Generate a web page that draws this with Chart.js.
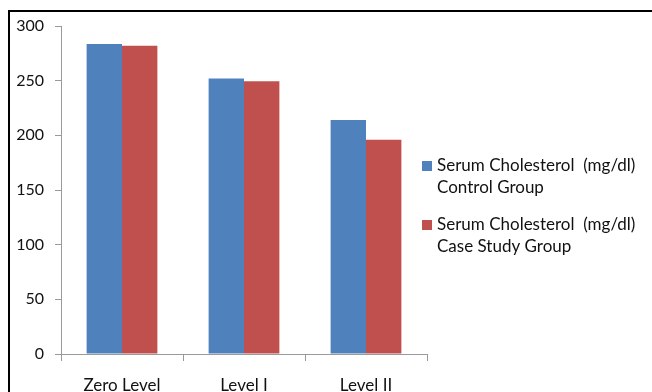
<!DOCTYPE html>
<html>
<head>
<meta charset="utf-8">
<script src="https://cdn.jsdelivr.net/npm/chart.js@4.4.0/dist/chart.umd.min.js"></script>
<style>
  html, body { margin: 0; padding: 0; background: #fff; }
  #wrap { position: relative; width: 652px; height: 392px; }
  canvas { display: block; }
</style>
</head>
<body>
<div id="wrap"><canvas id="c" width="652" height="392"></canvas></div>
<script>
const categories = ["Zero Level", "Level I", "Level II"];
const controlLabel = ["Serum Cholesterol  (mg/dl)", "Control Group"];
const caseLabel = ["Serum Cholesterol  (mg/dl)", "Case Study Group"];
const controlValues = [283.5, 252, 214];
const caseValues = [282, 249.5, 196];
const yTicks = [0, 50, 100, 150, 200, 250, 300];

const FONT = "Lato, 'Open Sans', sans-serif";

const framePlugin = {
  id: 'frame',
  afterDraw(chart) {
    const ctx = chart.ctx;
    ctx.save();
    ctx.strokeStyle = '#000';
    ctx.lineWidth = 2;
    ctx.beginPath();
    ctx.moveTo(9, 392);
    ctx.lineTo(9, 11);
    ctx.lineTo(652, 11);
    ctx.stroke();
    ctx.restore();
  }
};

const legendPlugin = {
  id: 'customLegend',
  afterDraw(chart) {
    const ctx = chart.ctx;
    ctx.save();
    ctx.font = "17px " + FONT;
    ctx.textBaseline = 'middle';
    const starts = [166, 225];
    chart.data.datasets.forEach((ds, i) => {
      const y0 = starts[i];
      ctx.fillStyle = ds.backgroundColor;
      ctx.fillRect(422, y0 - 5, 10, 10);
      ctx.fillStyle = '#111';
      ds.label.forEach((line, j) => {
        ctx.fillText(line, 437, y0 + j * 22);
      });
    });
    ctx.restore();
  }
};

new Chart(document.getElementById('c'), {
  type: 'bar',
  data: {
    labels: categories,
    datasets: [
      { label: controlLabel, data: controlValues, backgroundColor: '#4F81BD', categoryPercentage: 0.58, barPercentage: 1.0 },
      { label: caseLabel, data: caseValues, backgroundColor: '#C0504D', categoryPercentage: 0.58, barPercentage: 1.0 }
    ]
  },
  options: {
    responsive: false,
    animation: false,
    layout: { padding: { left: 10, right: 225, top: 26, bottom: 0 } },
    plugins: { legend: { display: false }, tooltip: { enabled: false } },
    scales: {
      x: {
        grid: { display: true, drawOnChartArea: false, color: '#9a9a9a', tickLength: 7, offset: true },
        border: { color: '#9a9a9a' },
        ticks: { color: '#111', font: { family: FONT, size: 17 }, padding: 14, maxRotation: 0 },
        afterFit(s) { s.height = 38; }
      },
      y: {
        min: 0, max: 300,
        afterBuildTicks(s) { s.ticks = yTicks.map(v => ({ value: v })); },
        grid: { display: true, drawOnChartArea: false, color: '#9a9a9a', tickLength: 6 },
        border: { color: '#9a9a9a' },
        ticks: { color: '#111', font: { family: FONT, size: 16 }, padding: 11 },
        afterFit(s) { s.width = 51; }
      }
    }
  },
  plugins: [framePlugin, legendPlugin]
});
</script>
</body>
</html>
